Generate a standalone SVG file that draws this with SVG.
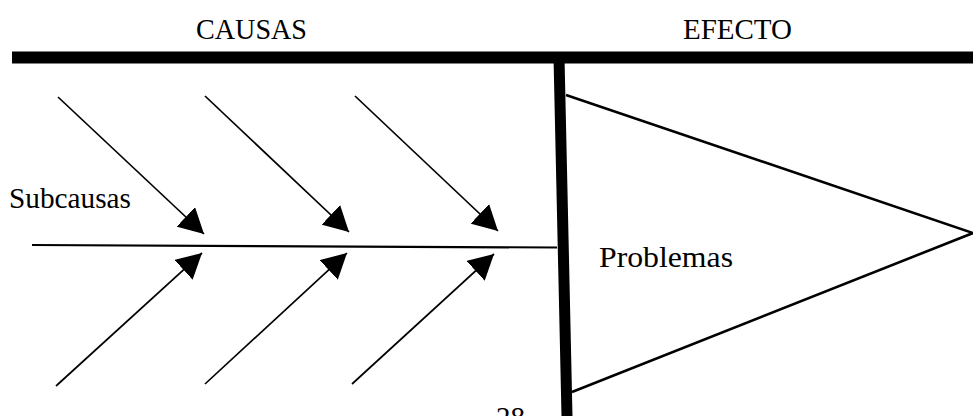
<svg xmlns="http://www.w3.org/2000/svg" width="973" height="416" viewBox="0 0 973 416">
<style>
text{font-family:"Liberation Serif","Times New Roman",serif;fill:#000}
.lbl{font-size:29px}
.arr{stroke:#000;stroke-width:1.7;fill:none;marker-end:url(#ah)}
.thick{stroke:#000;fill:none}
</style>
<defs>
<marker id="ah" viewBox="0 0 25 27" refX="25" refY="13.5" markerWidth="25" markerHeight="27" markerUnits="userSpaceOnUse" orient="auto">
<path d="M0,0 L25,13.5 L0,27 Z" fill="#000"/>
</marker>
</defs>
<rect width="973" height="416" fill="#fff"/>
<g id="header-causas"><text class="lbl" x="196" y="39" textLength="111" lengthAdjust="spacingAndGlyphs">CAUSAS</text></g>
<g id="header-efecto"><text class="lbl" x="683" y="39" textLength="109" lengthAdjust="spacingAndGlyphs">EFECTO</text></g>
<g id="top-bar"><line class="thick" x1="12" y1="57.5" x2="973" y2="57.5" stroke-width="12"/></g>
<g id="effect-bar"><line class="thick" x1="559" y1="57" x2="567" y2="416" stroke-width="11"/></g>
<g id="effect-triangle"><polyline class="thick" points="566,95 973,233 572,392" stroke-width="2.6" stroke-linejoin="miter"/></g>
<g id="label-subcausas"><text class="lbl" x="9" y="208" textLength="122" lengthAdjust="spacingAndGlyphs">Subcausas</text></g>
<g id="label-problemas"><text class="lbl" x="599" y="267" textLength="134" lengthAdjust="spacingAndGlyphs">Problemas</text></g>
<g id="page-number"><text class="lbl" x="496" y="427">28</text></g>
<g id="connectors">
<line x1="32" y1="245" x2="557" y2="247.5" stroke="#000" stroke-width="2.2"/>
<line class="arr" x1="58" y1="97" x2="204" y2="234"/>
<line class="arr" x1="205" y1="96" x2="349" y2="232"/>
<line class="arr" x1="355" y1="96" x2="498" y2="231"/>
<line class="arr" x1="56" y1="386" x2="202" y2="253"/>
<line class="arr" x1="205" y1="384" x2="347" y2="253"/>
<line class="arr" x1="352" y1="384" x2="494" y2="254"/>
</g>
</svg>
